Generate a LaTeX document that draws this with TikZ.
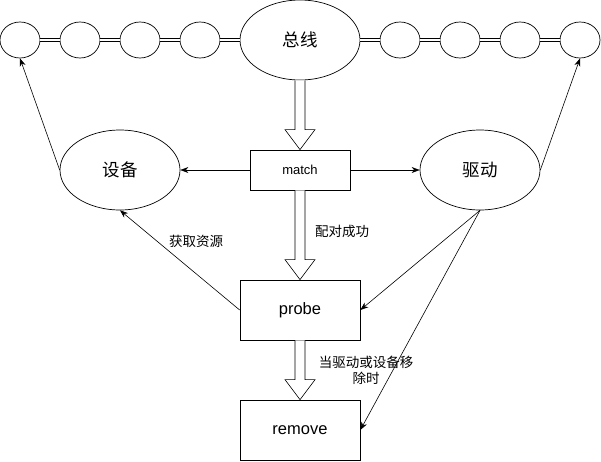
\documentclass[tikz,border=0pt]{standalone}
\usepackage{fontspec}
\setmainfont{Liberation Sans}
\newfontfamily\cjk{Noto Sans CJK SC}
\usetikzlibrary{shapes.geometric,arrows.meta,calc}
\tikzset{
  bead/.style={draw, ellipse, minimum width=40pt, minimum height=36pt, inner sep=0pt, line width=0.7pt},
  bigell/.style={draw, ellipse, minimum width=120pt, minimum height=80pt, inner sep=0pt, line width=0.7pt, font=\cjk\fontsize{17.5}{20}\selectfont},
  box/.style={draw, rectangle, inner sep=0pt, line width=0.7pt},
  link/.style={double, double distance=2pt, line width=0.7pt},
  conn/.style={-{Stealth[length=8pt,width=6pt,inset=2.5pt]}, line width=0.6pt},
  fat/.style={fill=white, draw=black, line width=0.6pt, line join=miter},
  lbl/.style={font=\cjk\fontsize{13.5}{16}\selectfont, inner sep=0pt, align=center}
}
\newcommand{\fatarrow}[2]{%
  \path[fat] let \p1=(#1), \p2=(#2) in
   (\x1-5pt,\y1) -- (\x1-5pt,\y2+20pt) -- (\x1-15pt,\y2+20pt) -- (\x1,\y2)
   -- (\x1+15pt,\y2+20pt) -- (\x1+5pt,\y2+20pt) -- (\x1+5pt,\y1);}
\begin{document}
\begin{tikzpicture}[x=1pt,y=-1pt]
\useasboundingbox (0,0) rectangle (601,461);
\node[bead] (c1) at (20,40) {};
\node[bead] (c2) at (80,40) {};
\node[bead] (c3) at (140,40) {};
\node[bead] (c4) at (200,40) {};
\node[bigell] (bus) at (300,40) {总线};
\node[bead] (c5) at (400,40) {};
\node[bead] (c6) at (460,40) {};
\node[bead] (c7) at (520,40) {};
\node[bead] (c8) at (580,40) {};
\draw[link] (c1) -- (c2);
\draw[link] (c2) -- (c3);
\draw[link] (c3) -- (c4);
\draw[link] (c4) -- (bus);
\draw[link] (bus) -- (c5);
\draw[link] (c5) -- (c6);
\draw[link] (c6) -- (c7);
\draw[link] (c7) -- (c8);

\node[box, minimum width=100pt, minimum height=40pt, font=\fontsize{13}{15}\selectfont] (match) at (300,170) {match};
\node[bigell] (dev) at (120,170) {设备};
\node[bigell] (drv) at (480,170) {驱动};
\node[box, minimum width=120pt, minimum height=60pt, font=\fontsize{16.5}{19}\selectfont] (probe) at (300,310) {probe};
\node[box, minimum width=120pt, minimum height=60pt, font=\fontsize{16.5}{19}\selectfont] (remove) at (300,430) {remove};

\fatarrow{bus.south}{match.north}
\fatarrow{match.south}{probe.north}
\fatarrow{probe.south}{remove.north}

\draw[conn] (match.west) -- (dev.east);
\draw[conn] (match.east) -- (drv.west);
\draw[conn] (dev.west) -- (c1.south);
\draw[conn] (drv.east) -- (c8.south);
\draw[conn] (probe.west) -- (dev.south);
\draw[conn] (drv.south) -- (probe.east);
\draw[conn] (drv.south) -- (remove.east);

\node[lbl] (l1) at (342,231) {配对成功};
\node[lbl] (l2) at (196,241) {获取资源};
\node[lbl] (l3) at (366,370) {当驱动或设备移\\除时};
\end{tikzpicture}
\end{document}
